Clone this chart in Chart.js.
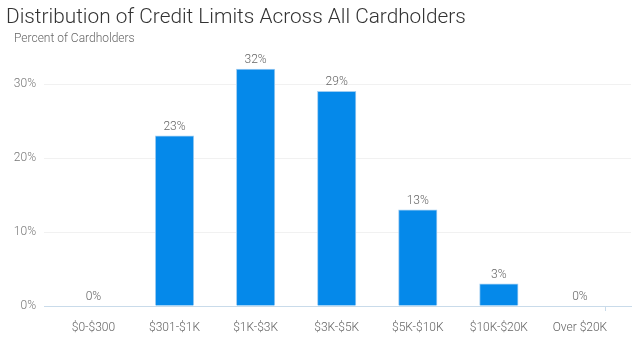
<!DOCTYPE html>
<html>
<head>
<meta charset="utf-8">
<script src="https://cdn.jsdelivr.net/npm/chart.js@4"></script>
<style>
  html, body { margin: 0; padding: 0; background: #fff; }
  #wrap { position: relative; width: 641px; height: 342px; overflow: hidden; }
  #title { position: absolute; left: 6px; top: 6px; font-family: Roboto, sans-serif; font-weight: 300; font-size: 20.8px; line-height: 1; color: #333; white-space: nowrap; }
  #subtitle { position: absolute; left: 14px; top: 32px; font-family: Roboto, sans-serif; font-weight: 300; font-size: 12px; line-height: 1; color: #666; white-space: nowrap; }
  canvas { position: absolute; left: 0; top: 0; }
</style>
</head>
<body>
<div id="wrap">
  <canvas id="c" width="641" height="342"></canvas>
  <div id="title">Distribution of Credit Limits Across All Cardholders</div>
  <div id="subtitle">Percent of Cardholders</div>
</div>
<script>
const categories = ["$0-$300", "$301-$1K", "$1K-$3K", "$3K-$5K", "$5K-$10K", "$10K-$20K", "Over $20K"];
const percentValues = [0, 23, 32, 29, 13, 3, 0];
const yTickValues = [0, 10, 20, 30];

const axisColor = '#c9dbea';
const gridColor = '#f1f1f1';
const barColor = '#0589ea';

const labelPlugin = {
  id: 'barLabels',
  afterDatasetsDraw(chart) {
    const ctx = chart.ctx;
    ctx.save();
    ctx.font = '300 12px Roboto, sans-serif';
    ctx.fillStyle = '#666';
    ctx.textAlign = 'center';
    ctx.textBaseline = 'middle';
    chart.getDatasetMeta(0).data.forEach((el, i) => {
      ctx.fillText(percentValues[i] + '%', el.x, el.y - 9);
    });
    ctx.restore();
  }
};

new Chart(document.getElementById('c'), {
  type: 'bar',
  data: {
    datasets: [{
      data: percentValues.map((v, i) => ({ x: i, y: v })),
      backgroundColor: barColor,
      borderColor: '#9fcdf2',
      borderWidth: 1,
      barThickness: 38.5
    }]
  },
  options: {
    responsive: false,
    animation: false,
    devicePixelRatio: 1,
    layout: { padding: { top: 47, right: 9, left: 0, bottom: 0 } },
    plugins: { legend: { display: false }, tooltip: { enabled: false } },
    scales: {
      x: {
        type: 'linear',
        offset: false,
        min: -0.61,
        max: 6.63,
        afterFit(scale) { scale.height = 36; },
        afterBuildTicks(scale) {
          scale.ticks = [{ value: -0.61 }].concat(categories.map((c, i) => ({ value: i }))).concat([{ value: 6.63 }]);
        },
        border: { display: true, color: axisColor, width: 1 },
        grid: {
          drawOnChartArea: false,
          drawTicks: true,
          tickLength: 5,
          color: (ctx) => (ctx.tick && Number.isInteger(ctx.tick.value)) ? 'rgba(0,0,0,0)' : axisColor
        },
        ticks: {
          autoSkip: false,
          maxRotation: 0,
          padding: 10,
          color: '#666',
          font: { family: 'Roboto', size: 12, weight: '300' },
          callback: (v) => Number.isInteger(v) ? categories[v] : ''
        }
      },
      y: {
        min: 0,
        max: 35,
        afterFit(scale) { scale.width = 44; },
        afterBuildTicks(scale) { scale.ticks = yTickValues.map(v => ({ value: v })); },
        border: { display: false },
        grid: { color: gridColor, drawTicks: false },
        ticks: {
          padding: 8,
          color: '#777',
          font: { family: 'Roboto', size: 12, weight: '300' },
          callback: (v) => v + '%'
        }
      }
    }
  },
  plugins: [labelPlugin]
});
</script>
</body>
</html>
